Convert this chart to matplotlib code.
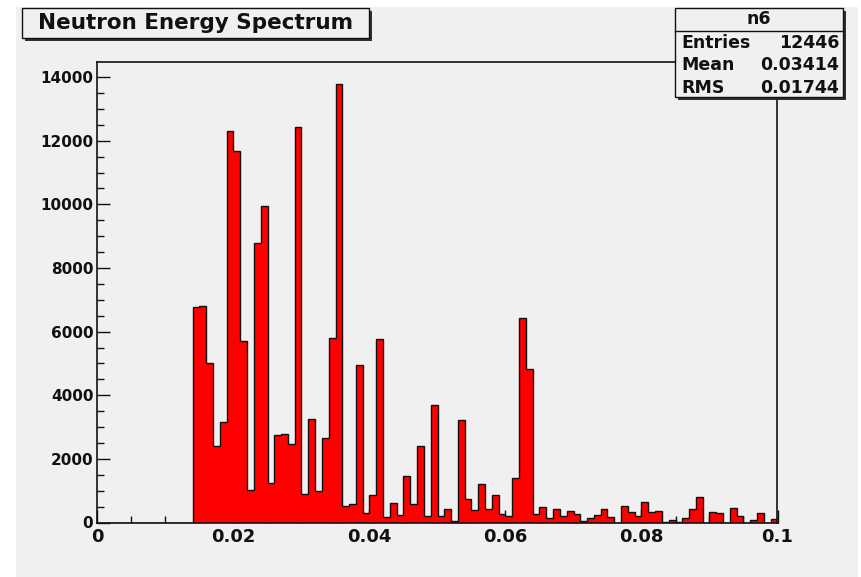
import matplotlib
matplotlib.use("Agg")
import matplotlib.pyplot as plt
from matplotlib.patches import Rectangle
import numpy as np

# --- data: 100 bins of width 0.001 on [0, 0.1] ---
bin_edges = np.linspace(0.0, 0.1, 101)
counts = [
    0, 0, 0, 0, 0, 0, 0, 0, 0, 0,
    0, 0, 0, 0, 6760, 6800, 5000, 2390, 3170, 12290,
    11680, 5690, 1010, 8800, 9950, 1240, 2740, 2780, 2460, 12440,
    890, 3240, 975, 2660, 5800, 13785, 513, 587, 4940, 314,
    860, 5780, 178, 625, 245, 1457, 577, 2400, 199, 3690,
    199, 430, 52, 3230, 734, 398, 1195, 430, 860, 272,
    199, 1394, 6416, 4812, 272, 472, 157, 430, 199, 356,
    272, 52, 126, 241, 425, 160, 0, 534, 335, 220,
    650, 335, 377, 31, 73, 31, 126, 419, 796, 0,
    335, 293, 0, 450, 220, 0, 73, 293, 0, 115,
]
title = "Neutron Energy Spectrum"
stats_name = "n6"
stats_rows = [("Entries", "12446"), ("Mean", "0.03414"), ("RMS", "0.01744")]

W, H = 862, 577
CANVAS = "#f0f0f0"
INK = "#111111"


def fx(x):
    return x / W


def fy(y):
    return 1 - y / H


plt.rcParams["font.family"] = ["DejaVu Sans"]
plt.rcParams["font.weight"] = "bold"

fig = plt.figure(figsize=(W / 100, H / 100), dpi=100)
fig.patch.set_facecolor("white")
fig.patches.append(Rectangle((fx(16), 0), fx(858) - fx(16), fy(7), transform=fig.transFigure,
                             facecolor=CANVAS, edgecolor="none", zorder=-10))

# frame: x 97.5..777.5 px, y 62..522.5 px
ax = fig.add_axes([fx(97.5), fy(522.5), fx(777.5) - fx(97.5), fy(62) - fy(522.5)])
ax.set_facecolor(CANVAS)
ax.stairs(counts, bin_edges, fill=True, color="#ff0000", zorder=2)
ax.stairs(counts, bin_edges, color=INK, linewidth=1.0, zorder=3)

ax.set_xlim(0, 0.1)
ax.set_ylim(0, max(counts) * 1.05)
ax.set_xticks(np.arange(0, 0.1001, 0.02))
ax.set_xticks(np.arange(0, 0.1001, 0.005), minor=True)
ax.set_xticklabels(["0", "0.02", "0.04", "0.06", "0.08", "0.1"])
ax.set_yticks(np.arange(0, 14001, 2000))
ax.set_yticks(np.arange(0, 14001, 500), minor=True)
ax.tick_params(axis="both", which="both", direction="in", colors=INK, width=1.0,
               top=False, right=False)
ax.tick_params(axis="x", which="major", length=9.5, pad=4, labelsize=13)
ax.tick_params(axis="x", which="minor", length=5)
ax.tick_params(axis="y", which="major", length=9.5, pad=3, labelsize=11)
ax.tick_params(axis="y", which="minor", length=5)
for lbl in ax.get_xticklabels() + ax.get_yticklabels():
    lbl.set_fontweight("bold")
for side in ax.spines.values():
    side.set_color(INK)
    side.set_linewidth(1.2)


def pave(x0, y0, x1, y1):
    # ROOT-style box with a dark drop shadow
    fig.patches.append(Rectangle((fx(x0 + 3), fy(y1 + 3)), fx(x1 - x0), fy(y0) - fy(y1),
                                 transform=fig.transFigure, facecolor="#303030",
                                 edgecolor="none", zorder=5))
    fig.patches.append(Rectangle((fx(x0), fy(y1)), fx(x1 - x0), fy(y0) - fy(y1),
                                 transform=fig.transFigure, facecolor=CANVAS,
                                 edgecolor=INK, linewidth=1.0, zorder=6))


# title
pave(22, 8, 369, 38)
fig.text(fx(196), fy(23), title, ha="center", va="center", fontsize=15.5,
         fontweight="bold", color=INK, zorder=7)

# stats box
pave(675, 8, 843, 97)
fig.add_artist(plt.Line2D([fx(675), fx(843)], [fy(31), fy(31)], transform=fig.transFigure,
                          color=INK, linewidth=1.0, zorder=7))
fig.text(fx(759), fy(19.5), stats_name, ha="center", va="center", fontsize=12.5,
         fontweight="bold", color=INK, zorder=7)
for i, (k, v) in enumerate(stats_rows):
    yy = fy(43 + i * 22.5)
    fig.text(fx(681), yy, k, ha="left", va="center", fontsize=12.5, fontweight="bold",
             color=INK, zorder=7)
    fig.text(fx(839), yy, v, ha="right", va="center", fontsize=12.5, fontweight="bold",
             color=INK, zorder=7)

fig.savefig("out.png", dpi=100)
